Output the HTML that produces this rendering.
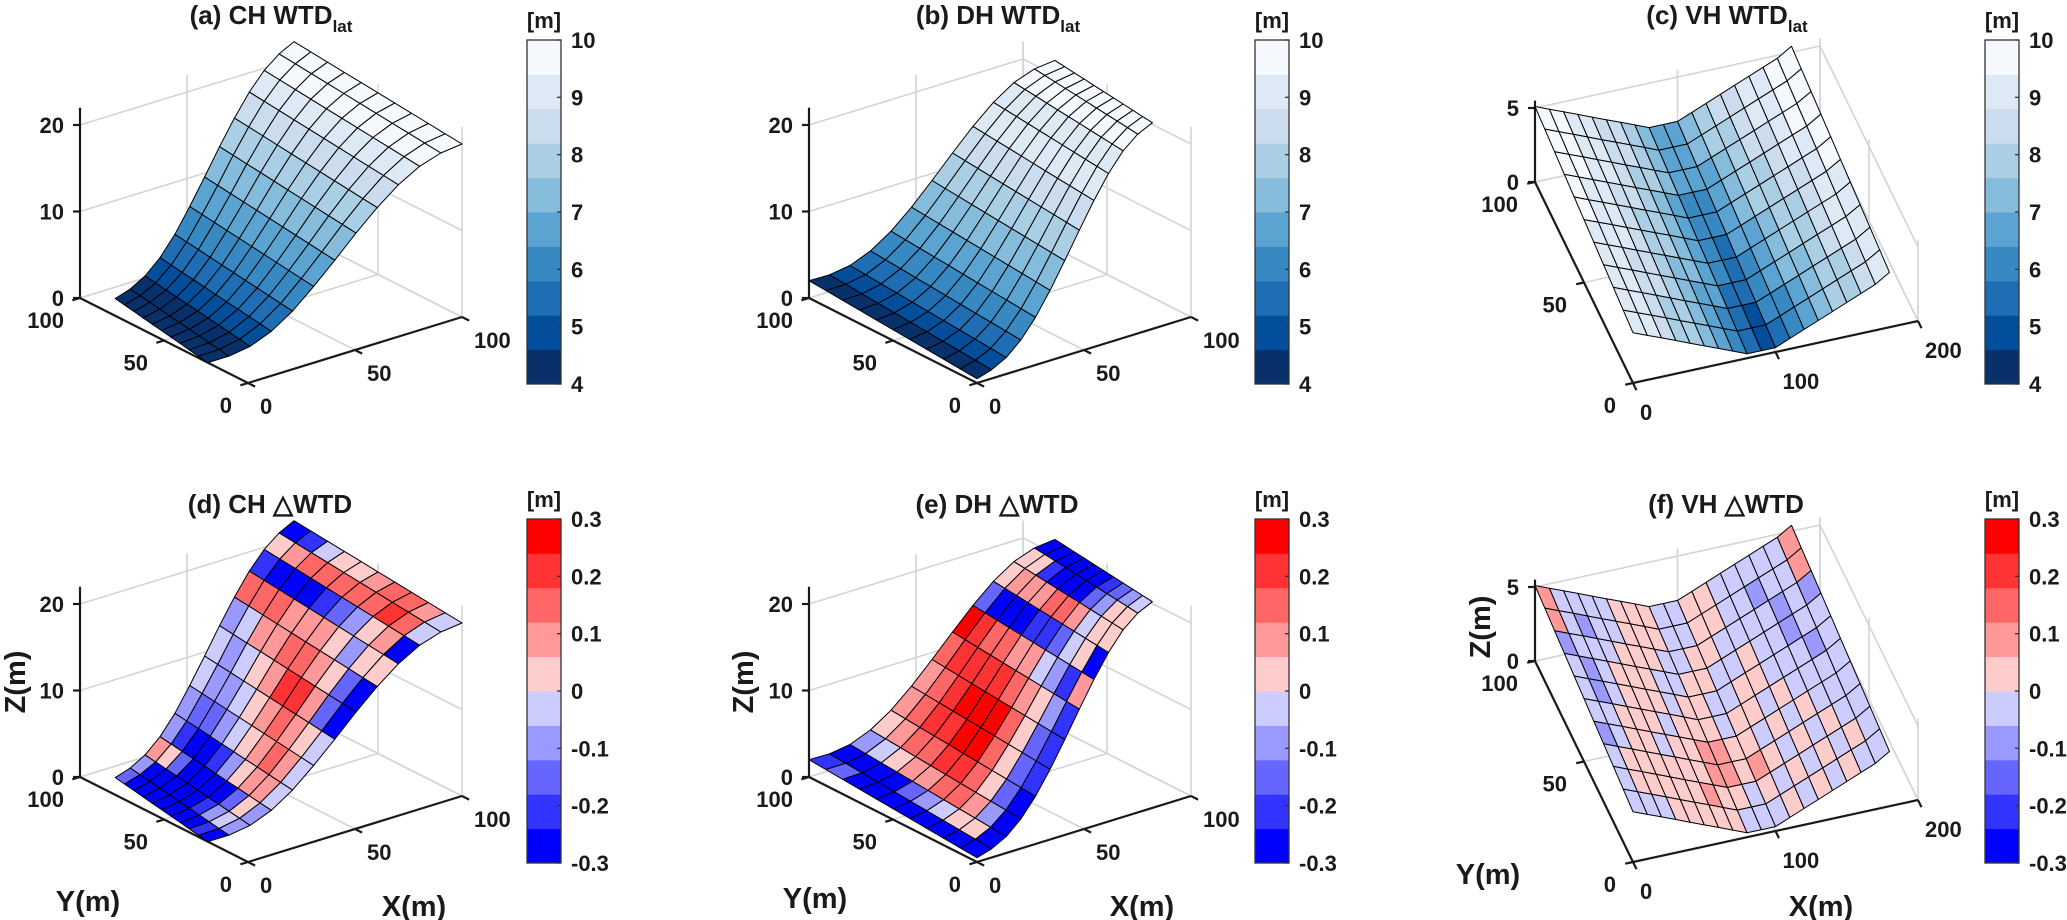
<!DOCTYPE html>
<html><head><meta charset="utf-8"><style>
html,body{margin:0;padding:0;background:#fff;}
svg{display:block;}
text{font-family:"Liberation Sans",Arial,sans-serif;font-weight:bold;fill:#1a1a1a;}
</style></head><body>
<svg id="fig" width="2067" height="920" viewBox="0 0 2067 920" xmlns="http://www.w3.org/2000/svg"></svg>
<script>
const NS='http://www.w3.org/2000/svg';
// ---------- data ----------
const hillXTicks=[0,50,100];
const hillYTicks=[0,50,100];
const hillZTicks=[0,10,20];
const vhXTicks=[0,100,200];
const vhYTicks=[0,50,100];
const vhZTicks=[0,5];
const wtdBarTicks=[4,5,6,7,8,9,10];
const dBarTicks=[-0.3,-0.2,-0.1,0,0.1,0.2,0.3];
const dBarLabels=['-0.3','-0.2','-0.1','0','0.1','0.2','0.3'];
const chZ=[0,0.3,1,2.3,4.2,6.6,9.2,11.9,14.4,16.6,18.3,19.4,20];
const dhZ=[0.5,0.7,1.3,2.5,4.3,6.6,9.2,11.9,14.5,16.8,18.6,19.7,20.2];
const chPlanBottom=[24,79];
const chPlanTop=[0,100];
const chTilt=2;
const dhPlanBottom=[0,100];
const dhPlanTop=[23,81];
const dhTilt=1.5;
const chWTD=[4.3,4.4,4.9,5.5,6.1,6.7,7.3,7.9,8.5,9.1,9.7,9.8];
const dhWTD=[4.5,5.0,5.5,6.1,6.7,7.3,7.9,8.5,9.1,9.3,9.7,9.8];
const chDelta=[
[-.15,-.27,-.27,-.27,-.27,-.27,-.27,-.27,-.21,-.27],
[-.09,-.27,-.27,-.27,-.27,-.27,-.21,-.09,-.03,-.09],
[.09,.03,-.15,-.27,-.27,-.27,-.27,-.15,.03,-.09],
[-.09,-.21,-.27,-.27,-.21,-.09,.03,.09,.09,-.03],
[-.09,-.15,-.15,-.09,-.03,.03,.09,.15,.09,-.03],
[-.03,-.09,-.09,-.03,.03,.09,.15,.09,.03,-.03],
[-.03,-.09,-.03,.03,.09,.21,.21,.09,-.15,-.27],
[-.09,-.03,.09,.09,.15,.15,.09,.03,-.15,-.27],
[.15,.15,.15,.09,.09,.09,.03,-.09,.03,.03],
[-.21,-.27,-.27,-.27,-.21,-.15,-.09,.03,.09,-.27],
[.03,.09,.15,.15,.15,.15,.15,.21,.15,-.03],
[-.27,-.21,-.03,.03,.03,.09,.15,.15,.09,-.03]];
const dhDelta=[
[-.21,-.15,-.27,-.27,-.27,-.27,-.27,-.27,-.27,-.27],
[-.27,-.27,-.27,-.27,-.15,-.09,-.03,.03,.03,-.27],
[-.09,-.03,.03,.09,.09,.15,.15,.09,-.09,-.27],
[.03,.09,.15,.15,.21,.21,.15,.03,-.15,-.27],
[.09,.15,.21,.21,.27,.27,.15,.03,-.15,-.21],
[.09,.15,.21,.27,.27,.27,.15,.03,-.15,-.21],
[.15,.21,.21,.21,.21,.15,.09,.03,-.09,-.21],
[.27,.21,.15,.15,.09,.09,-.03,-.09,-.21,.09],
[-.15,-.27,-.27,-.27,-.21,-.21,-.15,-.03,.03,-.27],
[.03,.09,.09,.09,.15,.15,.09,-.03,.03,.03],
[.03,.03,-.21,-.27,-.27,-.27,-.15,-.09,.03,.03],
[-.27,-.27,-.27,-.27,-.27,-.27,-.21,-.15,-.09,-.03]];
const vhXNodes=[0,10,20,30,40,50,60,70,80,90,100,110,120,130,140,150,160,170,180];
const vhZx=[3.1,2.71,2.33,1.94,1.55,1.16,0.78,0.39,0,0,0,0.4,0.8,1.2,1.6,2.0,2.4,2.8,3.4];
const vhZy=[0.3,2.0];
const vhWTD=[
[9.7,9.6,9.2,9.0,8.6,8.4,8.0,7.3,6.8,6.8,7.3,7.9,8.4,8.6,9.0,9.2,9.6,9.7],
[9.6,9.5,9.1,8.9,8.5,8.3,7.8,7.2,6.6,6.6,7.1,7.7,8.2,8.4,8.8,9.1,9.5,9.6],
[9.5,9.4,9.0,8.8,8.4,8.1,7.7,7.0,6.5,6.4,6.9,7.5,8.0,8.3,8.7,9.0,9.4,9.5],
[9.5,9.3,9.0,8.7,8.3,8.0,7.5,6.9,6.3,6.2,6.7,7.3,7.8,8.1,8.5,8.8,9.3,9.5],
[9.4,9.2,8.9,8.6,8.2,7.8,7.4,6.8,6.1,6.0,6.5,7.1,7.6,7.9,8.4,8.7,9.2,9.4],
[9.3,9.2,8.8,8.5,8.0,7.7,7.2,6.6,6.0,5.7,6.4,6.9,7.4,7.8,8.2,8.6,9.0,9.3],
[9.2,9.1,8.7,8.4,7.9,7.5,7.1,6.5,5.8,5.5,6.2,6.7,7.2,7.6,8.1,8.5,8.9,9.2],
[9.2,9.0,8.7,8.3,7.8,7.4,6.9,6.4,5.6,5.3,6.0,6.5,7.0,7.4,7.9,8.3,8.8,9.2],
[9.1,8.9,8.6,8.2,7.7,7.2,6.8,6.2,5.5,5.1,5.8,6.3,6.8,7.3,7.8,8.2,8.7,9.1],
[9.0,8.8,8.5,8.1,7.6,7.1,6.6,6.1,5.3,4.9,5.6,6.1,6.6,7.1,7.6,8.1,8.6,9.0]];
const vhDelta=[
[.09,-.03,-.03,-.03,-.03,.03,.03,.03,-.03,-.03,.03,.03,-.03,-.03,-.03,-.03,-.03,.09],
[.09,-.03,-.09,-.03,-.03,.03,.03,.03,-.03,-.03,.03,.03,-.03,-.03,-.09,-.03,-.03,.09],
[-.09,-.03,-.03,-.03,.03,.03,.03,-.03,-.03,.03,.03,-.03,-.03,-.03,-.03,-.09,-.03,-.09],
[-.03,-.09,-.03,.03,.03,.03,-.03,-.03,.03,.03,-.03,-.03,.03,-.03,-.03,-.09,-.03,-.03],
[-.03,-.09,-.03,.03,.03,.03,-.03,.03,.03,-.03,-.03,.03,.03,-.03,-.03,-.03,-.09,-.03],
[-.03,-.03,.03,.03,.03,-.03,.03,.03,.03,-.03,.03,.03,-.03,.03,-.03,-.03,-.03,-.03],
[-.09,-.03,.03,.03,-.03,.03,.03,.09,.09,.03,.03,-.03,.03,-.03,.03,-.03,-.03,-.03],
[-.03,.03,.03,.03,.03,.03,.03,.09,.09,.03,.09,.03,-.03,.03,-.03,.03,-.03,-.03],
[-.03,.03,.03,.03,.03,.03,.09,.03,.03,-.03,.03,-.03,.03,-.03,.03,-.03,.03,-.03],
[-.03,-.03,-.03,.03,.03,.03,.03,.03,-.03,-.03,-.03,.03,-.03,.03,-.03,.03,-.03,-.03]];
const WTD_COLORS=['#08306b','#034e9a','#1f6db2','#3888c2','#5ba3d0','#86bcdb','#aacfe5','#cadcee','#dde9f5','#f5f9fe'];
const D_COLORS=['#0000ff','#3333ff','#6666ff','#9999ff','#ccccff','#ffcccc','#ff9999','#ff6666','#ff3333','#ff0000'];

const svg=document.getElementById('fig');
function el(tag,attrs,parent){const e=document.createElementNS(NS,tag);for(const k in attrs)e.setAttribute(k,attrs[k]);(parent||svg).appendChild(e);return e;}
function wtdColor(v){let i=Math.floor((v-4)/0.6);i=Math.max(0,Math.min(9,i));return WTD_COLORS[i];}
function dColor(v){let i=Math.floor((v+0.3)/0.06);i=Math.max(0,Math.min(9,i));return D_COLORS[i];}
function makeProj(p){return (x,y,z)=>[p.O[0]+x*p.ex[0]+y*p.ey[0], p.O[1]+x*p.ex[1]+y*p.ey[1]-z*p.ez];}
const TF=22;

function drawAxes(g,p,P){
  const gr=el('g',{},g);
  
  
  const gs={stroke:'#d4d4d4','stroke-width':1.6,fill:'none'};
  const seg=(a,b)=>{el('line',Object.assign({x1:a[0],y1:a[1],x2:b[0],y2:b[1]},gs),gr);};
  p.zticks.forEach(z=>{seg(P(0,p.ymax,z),P(p.xmax,p.ymax,z));seg(P(p.xmax,p.ymax,z),P(p.xmax,0,z));});
  p.xticks.forEach(x=>{seg(P(x,p.ymax,0),P(x,p.ymax,p.zmax));seg(P(x,0,0),P(x,p.ymax,0));});
  p.yticks.forEach(y=>{seg(P(p.xmax,y,0),P(p.xmax,y,p.zmax));seg(P(0,y,0),P(p.xmax,y,0));});
  const ax=el('g',{stroke:'#1a1a1a','stroke-width':2.2,fill:'none'},g);
  
  
  const A=(a,b)=>el('line',{x1:a[0],y1:a[1],x2:b[0],y2:b[1]},ax);
  A(P(0,p.ymax,0),P(0,p.ymax,p.zmax));
  A(P(0,0,0),P(0,p.ymax,0));
  A(P(0,0,0),P(p.xmax,0,0));
  p.zticks.forEach(z=>{const q=P(0,p.ymax,z);A(q,[q[0]-7,q[1]]);});
  const exl=Math.hypot(p.ex[0],p.ex[1]),eyl=Math.hypot(p.ey[0],p.ey[1]);
  p.yticks.forEach(y=>{const q=P(0,y,0);A(q,[q[0]-p.ex[0]/exl*8,q[1]-p.ex[1]/exl*8]);});
  p.xticks.forEach(x=>{const q=P(x,0,0);A(q,[q[0]-p.ey[0]/eyl*8,q[1]-p.ey[1]/eyl*8]);});
  p.zticks.forEach(z=>{const q=P(0,p.ymax,z);const t=el('text',{x:q[0]-16,y:q[1]+8,'font-size':TF,'text-anchor':'end'},g);t.textContent=z;
    
    });
  p.yticks.forEach(y=>{const q=P(0,y,0);const t=el('text',{x:q[0]+p.ylab[0],y:q[1]+p.ylab[1],'font-size':TF,'text-anchor':'end'},g);t.textContent=y;
    
    });
  p.xticks.forEach(x=>{const q=P(x,0,0);const t=el('text',{x:q[0]+p.xlab[0],y:q[1]+p.xlab[1],'font-size':TF,'text-anchor':'start'},g);t.textContent=x;
    
    });
}

function drawCells(g,P,cells){
  cells.sort((a,b)=>b.d-a.d);
  const sg=el('g',{stroke:'#000','stroke-width':1,'stroke-linejoin':'round'},g);
  
  
  cells.forEach(c=>{
    const pts=c.n.map(n=>P(n.x,n.y,n.z).map(v=>v.toFixed(1)).join(',')).join(' ');
    const poly=el('polygon',{points:pts,fill:c.fill},sg);
    
    
  });
}

function hillCells(zArr,bottom,top,tilt,colorMat,colorFn){
  const ni=zArr.length, nk=11, nodes=[];
  for(let i=0;i<ni;i++){const x=i*100/(ni-1);const f=x/100;
    const ylo=bottom[0]+(top[0]-bottom[0])*f, yhi=bottom[1]+(top[1]-bottom[1])*f;
    nodes.push([]);
    for(let k=0;k<nk;k++){const v=1-k/(nk-1);nodes[i].push({x:x,y:ylo+v*(yhi-ylo),z:zArr[i]+tilt*v});}}
  const cells=[];
  for(let i=0;i<ni-1;i++)for(let k=0;k<nk-1;k++){
    const n=[nodes[i][k],nodes[i][k+1],nodes[i+1][k+1],nodes[i+1][k]];
    const cx=(n[0].x+n[2].x)/2, cy=(n[0].y+n[1].y+n[2].y+n[3].y)/4;
    const val=Array.isArray(colorMat[i])?colorMat[i][k]:colorMat[i];
    cells.push({n:n,d:cx/100+cy/100,fill:colorFn(val)});}
  return cells;
}
function vhCells(colorMat,colorFn){
  const nr=colorMat.length, nodes=[];
  for(let r=0;r<=nr;r++){const y=100-r*100/nr;const zy=vhZy[0]+(vhZy[1]-vhZy[0])*y/100;
    nodes.push(vhXNodes.map((x,i)=>({x:x,y:y,z:vhZx[i]+zy})));}
  const cells=[];
  for(let r=0;r<nr;r++)for(let i=0;i<vhXNodes.length-1;i++){
    const n=[nodes[r][i],nodes[r][i+1],nodes[r+1][i+1],nodes[r+1][i]];
    const cx=(n[0].x+n[1].x)/2, cy=(n[0].y+n[3].y)/2;
    cells.push({n:n,d:cx/200+cy/100,fill:colorFn(colorMat[r][i])});}
  return cells;
}

function title(g,cx,y,main,sub,name){
  const t=el('text',{x:cx,y:y,'font-size':26,'text-anchor':'middle'},g);
  
  
  t.appendChild(document.createTextNode(main));
  if(sub){const s=el('tspan',{'font-size':17,dy:8},t);s.textContent=sub;}
}

function colorbar(g,x,y0,y1,colors,ticks,labels,vmin,vmax,name){
  const cb=el('g',{},g);
  
  
  const w=34,h=(y1-y0)/colors.length;
  colors.forEach((c,i)=>{const r=el('rect',{x:x,y:y1-(i+1)*h,width:w,height:h+0.5,fill:c},cb);
    
    });
  el('rect',{x:x,y:y0,width:w,height:y1-y0,fill:'none',stroke:'#333','stroke-width':1.3},cb);
  ticks.forEach((t,i)=>{const yy=y1-(t-vmin)/(vmax-vmin)*(y1-y0);
    el('line',{x1:x+w,y1:yy,x2:x+w-4,y2:yy,stroke:'#333','stroke-width':1.3},cb);
    const tx=el('text',{x:x+w+10,y:yy+8,'font-size':TF},cb);tx.textContent=labels[i];
    
    });
  const u=el('text',{x:x+w/2,y:y0-12,'font-size':TF,'text-anchor':'middle'},cb);u.textContent='[m]';
  
  
}

function axisLabels(g,zx,zy,yx,yy,xx,xy){
  const z=el('text',{x:zx,y:zy,'font-size':29,'text-anchor':'middle',transform:'rotate(-90 '+zx+' '+zy+')'},g);z.textContent='Z(m)';
  
  
  const y=el('text',{x:yx,y:yy,'font-size':29,'text-anchor':'middle'},g);y.textContent='Y(m)';
  
  
  const x=el('text',{x:xx,y:xy,'font-size':29,'text-anchor':'middle'},g);x.textContent='X(m)';
  
  
}

const hillBase={ex:[2.14,-0.66],ey:[-1.68,-0.85],ez:8.65,xmax:100,ymax:100,zmax:22,xticks:hillXTicks,yticks:hillYTicks,zticks:hillZTicks,xlab:[12,31],ylab:[-16,30]};
const vhBase={ex:[1.425,-0.31],ey:[-0.98,-2.01],ez:14.8,xmax:200,ymax:100,zmax:5.5,xticks:vhXTicks,yticks:vhYTicks,zticks:vhZTicks,xlab:[7,37],ylab:[-17,30]};
const wtdLabels=wtdBarTicks.map(String);

const panels=[
 {name:'panel-a-ch-wtd',base:hillBase,O:[248,383],cells:()=>hillCells(chZ,chPlanBottom,chPlanTop,chTilt,chWTD,wtdColor),title:['(a) CH WTD','lat',271,24],bar:[527,40,384,'wtd']},
 {name:'panel-b-dh-wtd',base:hillBase,O:[977,383],cells:()=>hillCells(dhZ,dhPlanBottom,dhPlanTop,dhTilt,dhWTD,wtdColor),title:['(b) DH WTD','lat',998,24],bar:[1255,40,384,'wtd']},
 {name:'panel-c-vh-wtd',base:vhBase,O:[1633,383],cells:()=>vhCells(vhWTD,wtdColor),title:['(c) VH WTD','lat',1727,24],bar:[1985,40,384,'wtd']},
 {name:'panel-d-ch-dwtd',base:hillBase,O:[248,862],cells:()=>hillCells(chZ,chPlanBottom,chPlanTop,chTilt,chDelta,dColor),title:['(d) CH \u25B3WTD','',270,513],bar:[527,519,863,'d'],labels:[25,682,88,911,414,916]},
 {name:'panel-e-dh-dwtd',base:hillBase,O:[977,862],cells:()=>hillCells(dhZ,dhPlanBottom,dhPlanTop,dhTilt,dhDelta,dColor),title:['(e) DH \u25B3WTD','',997,513],bar:[1255,519,863,'d'],labels:[753,682,815,908,1142,916]},
 {name:'panel-f-vh-dwtd',base:vhBase,O:[1633,862],cells:()=>vhCells(vhDelta,dColor),title:['(f) VH \u25B3WTD','',1726,513],bar:[1985,519,863,'d'],labels:[1490,627,1488,884,1821,916]}
];

panels.forEach(pn=>{
  const g=el('g',{});
  
  
  const p=Object.assign({},pn.base,{O:pn.O});
  const P=makeProj(p);
  drawAxes(g,p,P);
  drawCells(g,P,pn.cells());
  title(g,pn.title[2],pn.title[3],pn.title[0],pn.title[1],'panel-title');
  const b=pn.bar;
  if(b[3]==='wtd') colorbar(g,b[0],b[1],b[2],WTD_COLORS,wtdBarTicks,wtdLabels,4,10,'colorbar');
  else colorbar(g,b[0],b[1],b[2],D_COLORS,dBarTicks,dBarLabels,-0.3,0.3,'colorbar');
  if(pn.labels){const l=pn.labels;axisLabels(g,l[0],l[1],l[2],l[3],l[4],l[5]);}
});
</script>
</body></html>
